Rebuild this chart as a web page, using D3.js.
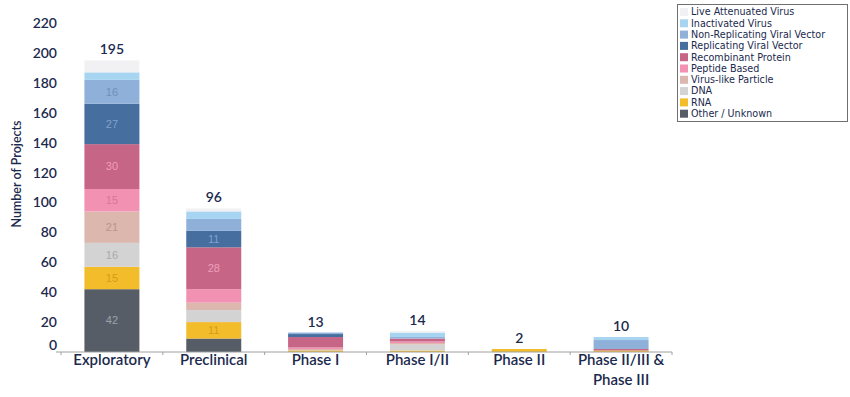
<!DOCTYPE html>
<html>
<head>
<meta charset="utf-8">
<script src="https://cdn.jsdelivr.net/npm/d3@7"></script>
<style>
  body { margin: 0; background: #fff; }
  svg { display: block; }
</style>
</head>
<body>
<svg id="chart" width="850" height="397"></svg>
<script>
// ---- Data ----
const categories = ["Exploratory", "Preclinical", "Phase I", "Phase I/II", "Phase II", "Phase II/III & Phase III"];
const categoryLines = [["Exploratory"], ["Preclinical"], ["Phase I"], ["Phase I/II"], ["Phase II"], ["Phase II/III &", "Phase III"]];
const seriesNames = ["Other / Unknown", "RNA", "DNA", "Virus-like Particle", "Peptide Based", "Recombinant Protein", "Replicating Viral Vector", "Non-Replicating Viral Vector", "Inactivated Virus", "Live Attenuated Virus"];
const otherUnknown   = [42, 9, 0, 0, 0, 0];
const rna            = [15, 11, 1, 1, 2, 1];
const dna            = [16, 8, 0, 4, 0, 0];
const virusLike      = [21, 5, 1, 1, 0, 0];
const peptide        = [15, 9, 1, 1, 0, 0];
const recombinant    = [30, 28, 7, 2, 0, 1];
const replicating    = [27, 11, 2, 0, 0, 0];
const nonReplicating = [16, 8, 1, 1, 0, 6];
const inactivated    = [5, 5, 0, 3, 0, 2];
const liveAttenuated = [8, 2, 0, 1, 0, 0];
const totals = [195, 96, 13, 14, 2, 10];
const yTicks = [0, 20, 40, 60, 80, 100, 120, 140, 160, 180, 200, 220];

const seriesValues = [otherUnknown, rna, dna, virusLike, peptide, recombinant, replicating, nonReplicating, inactivated, liveAttenuated];
const colors = ["#575d67", "#f2bc2b", "#d3d3d3", "#dbb7ae", "#f291b2", "#c66585", "#466e9f", "#8fb0d9", "#a6d4f1", "#f1f1f3"];
const labelColors = ["#9ba1aa", "#d49e1c", "#a9a9a9", "#b8958d", "#de7399", "#ef9fbb", "#7fa2cc", "#6e8fbb", "#7fb3d6", "#c8c8cc"];

const navy = "#1b2a4e";
const font = "Lato, 'Noto Sans', sans-serif";

const svg = d3.select("#chart");

const x = d3.scaleBand().domain(categories).range([61, 672]).paddingInner(0.46).paddingOuter(0.23);
const y = d3.scaleLinear().domain([0, 220]).range([352, 23]);

// stack data
const rows = categories.map((c, i) => {
  const o = {cat: c};
  seriesNames.forEach((s, j) => o[s] = seriesValues[j][i]);
  return o;
});
const stack = d3.stack().keys(seriesNames)(rows);

// bars
const g = svg.append("g");
stack.forEach((layer, j) => {
  g.selectAll(null).data(layer).enter().append("rect")
    .attr("x", d => x(d.data.cat))
    .attr("width", x.bandwidth())
    .attr("y", d => y(d[1]))
    .attr("height", d => Math.max(0, y(d[0]) - y(d[1])))
    .attr("fill", colors[j]);
  g.selectAll(null).data(layer.filter(d => d[1] - d[0] >= 10)).enter().append("text")
    .attr("x", d => x(d.data.cat) + x.bandwidth() / 2)
    .attr("y", d => (y(d[0]) + y(d[1])) / 2)
    .attr("dy", "0.35em")
    .attr("text-anchor", "middle")
    .attr("font-family", "Arial, 'Liberation Sans', sans-serif")
    .attr("font-size", 11)
    .attr("fill", labelColors[j])
    .text(d => d[1] - d[0]);
});

// totals
svg.selectAll(".tot").data(categories).enter().append("text")
  .attr("x", c => x(c) + x.bandwidth() / 2)
  .attr("y", (c, i) => y(totals[i]) - 6)
  .attr("text-anchor", "middle")
  .attr("font-family", font)
  .attr("font-weight", 600)
  .attr("font-size", 14)
  .attr("fill", navy)
  .text((c, i) => totals[i]);

// x axis
const xAxis = svg.append("g").attr("transform", "translate(0,352)");
xAxis.append("line").attr("x1", 56).attr("x2", 672).attr("y1", 0).attr("y2", 0).attr("stroke", "#a0a0a0").attr("stroke-width", 1);
const tickXs = [x.range()[0]].concat(categories.map(c => x(c) + x.bandwidth() + x.step() * x.paddingInner() / 2));
xAxis.selectAll(".tk").data(tickXs).enter().append("line")
  .attr("x1", d => d).attr("x2", d => d).attr("y1", 0).attr("y2", 3)
  .attr("stroke", "#a0a0a0");
categories.forEach((c, i) => {
  const t = xAxis.append("text")
    .attr("x", x(c) + x.bandwidth() / 2)
    .attr("y", 13)
    .attr("text-anchor", "middle")
    .attr("font-family", font)
    .attr("font-weight", 600)
    .attr("font-size", 15)
    .attr("fill", navy);
  categoryLines[i].forEach((line, k) => {
    t.append("tspan").attr("x", x(c) + x.bandwidth() / 2).attr("dy", k === 0 ? 0 : 20).text(line);
  });
});

// y axis
const yAxis = svg.append("g").attr("transform", "translate(57,0)")
  .call(d3.axisLeft(y).tickValues(yTicks).tickSize(0).tickPadding(0));
yAxis.select(".domain").remove();
yAxis.selectAll("text")
  .attr("font-family", font)
  .attr("font-weight", 600)
  .attr("font-size", 14)
  .attr("fill", navy)
  .attr("dy", d => d === 0 ? "-0.2em" : "0.32em");

svg.append("text")
  .attr("transform", "translate(21,174) rotate(-90)")
  .attr("text-anchor", "middle")
  .attr("font-family", font)
  .attr("font-weight", 600)
  .attr("font-size", 12.5)
  .attr("fill", navy)
  .text("Number of Projects");

// legend
const lg = svg.append("g").attr("transform", "translate(677,4)");
lg.append("rect").attr("x", 0.5).attr("y", 0.5).attr("width", 170).attr("height", 117)
  .attr("fill", "#fff").attr("stroke", "#707070");
const legendOrder = seriesNames.map((s, j) => j).reverse();
legendOrder.forEach((j, k) => {
  const ly = 8 + k * 11.3;
  lg.append("rect").attr("x", 3).attr("y", ly - 4).attr("width", 8).attr("height", 8).attr("fill", colors[j]);
  lg.append("text").attr("x", 14).attr("y", ly).attr("dy", "0.35em")
    .attr("font-family", "'DejaVu Sans', sans-serif").attr("font-size", 9.6).attr("fill", navy)
    .text(seriesNames[j]);
});
</script>
</body>
</html>
